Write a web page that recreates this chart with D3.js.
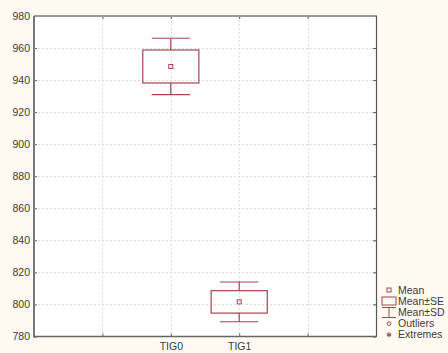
<!DOCTYPE html>
<html>
<head>
<meta charset="utf-8">
<script src="https://cdn.jsdelivr.net/npm/d3@7"></script>
<style>
  html, body { margin: 0; padding: 0; background: #fffbf2; }
  svg { display: block; font-family: "Liberation Sans", Arial, sans-serif; }
</style>
</head>
<body>
<div id="chart"></div>
<script>
// Box plot: mean, mean±SE, mean±SD per group
const groups = ["TIG0", "TIG1"];
const means = [948.5, 801.6];
const se = [10.3, 7.0];
const sd = [17.6, 12.4];
const yTicks = [780, 800, 820, 840, 860, 880, 900, 920, 940, 960, 980];
const legendItems = ["Mean", "Mean±SE", "Mean±SD", "Outliers", "Extremes"];

const width = 448, height = 353;
const margin = { top: 16, right: 72, bottom: 16, left: 34 };
const boxColor = "#a3454d";

const svg = d3.select("#chart").append("svg")
  .attr("width", width).attr("height", height);

const x = d3.scaleLinear().domain([-2, 3]).range([margin.left, width - margin.right]);
const y = d3.scaleLinear().domain([780, 980]).range([height - margin.bottom - 0.5, margin.top]);

svg.append("rect")
  .attr("x", margin.left).attr("y", margin.top)
  .attr("width", x(3) - x(-2)).attr("height", y(780) - y(980))
  .attr("fill", "#fff");

// grid
const grid = svg.append("g").attr("stroke", "#dcdcdc").attr("stroke-dasharray", "2,2");
grid.selectAll("line.h").data(yTicks.slice(1, -1)).join("line")
  .attr("x1", x(-2)).attr("x2", x(3))
  .attr("y1", d => Math.round(y(d)) + 0.5).attr("y2", d => Math.round(y(d)) + 0.5);
grid.selectAll("line.v").data([-1, 0, 1, 2]).join("line")
  .attr("y1", y(980)).attr("y2", y(780))
  .attr("x1", d => Math.round(x(d)) + 0.5).attr("x2", d => Math.round(x(d)) + 0.5);

// axes
const yAxis = svg.append("g")
  .attr("transform", `translate(${margin.left},0)`)
  .call(d3.axisLeft(y).tickValues(yTicks).tickSize(-3).tickPadding(4));
yAxis.select(".domain").remove();
yAxis.selectAll("line").attr("stroke", "#666");
yAxis.selectAll("text").attr("font-size", 10.5).attr("fill", "#3a3a3a");

const yAxisR = svg.append("g")
  .attr("transform", `translate(${x(3)},0)`)
  .call(d3.axisRight(y).tickValues(yTicks).tickSize(-3).tickFormat(""));
yAxisR.select(".domain").remove();
yAxisR.selectAll("line").attr("stroke", "#555");

const xAxis = svg.append("g")
  .attr("transform", `translate(0,${y(780)})`)
  .call(d3.axisBottom(x).tickValues([-1, 0, 1, 2]).tickSize(-3).tickPadding(6)
    .tickFormat(d => groups[d] || ""));
xAxis.select(".domain").remove();
xAxis.selectAll("line").attr("stroke", "#666");
xAxis.selectAll("text").attr("font-size", 10.5).attr("fill", "#3a3a3a");

const xAxisT = svg.append("g")
  .attr("transform", `translate(0,${y(980)})`)
  .call(d3.axisTop(x).tickValues([-1, 0, 1, 2]).tickSize(-3).tickFormat(""));
xAxisT.select(".domain").remove();
xAxisT.selectAll("line").attr("stroke", "#555");

// frame
svg.append("line").attr("x1", x(-2)).attr("x2", x(3) + 1)
  .attr("y1", y(980)).attr("y2", y(980)).attr("stroke", "#999").attr("stroke-width", 2);
svg.append("line").attr("x1", x(-2)).attr("x2", x(-2))
  .attr("y1", y(980)).attr("y2", y(780) + 1).attr("stroke", "#777").attr("stroke-width", 2);
svg.append("line").attr("x1", x(-2)).attr("x2", x(3) + 1)
  .attr("y1", y(780)).attr("y2", y(780)).attr("stroke", "#666").attr("stroke-width", 1.5);
svg.append("line").attr("x1", x(3) + 0.5).attr("x2", x(3) + 0.5)
  .attr("y1", y(980)).attr("y2", y(780)).attr("stroke", "#555").attr("stroke-width", 1.2);

// boxes
const bw = 0.41, cw = 0.28;
const boxes = svg.append("g").attr("stroke", boxColor).attr("fill", "none").attr("stroke-width", 1.2);
groups.forEach((g, i) => {
  const b = boxes.append("g");
  b.append("line").attr("x1", x(i)).attr("x2", x(i))
    .attr("y1", y(means[i] + sd[i])).attr("y2", y(means[i] + se[i]));
  b.append("line").attr("x1", x(i)).attr("x2", x(i))
    .attr("y1", y(means[i] - se[i])).attr("y2", y(means[i] - sd[i]));
  b.append("line").attr("x1", x(i - cw)).attr("x2", x(i + cw))
    .attr("y1", y(means[i] + sd[i])).attr("y2", y(means[i] + sd[i]));
  b.append("line").attr("x1", x(i - cw)).attr("x2", x(i + cw))
    .attr("y1", y(means[i] - sd[i])).attr("y2", y(means[i] - sd[i]));
  b.append("rect").attr("x", x(i - bw)).attr("width", x(i + bw) - x(i - bw))
    .attr("y", y(means[i] + se[i])).attr("height", y(means[i] - se[i]) - y(means[i] + se[i]));
  b.append("rect").attr("x", x(i) - 2).attr("y", y(means[i]) - 2)
    .attr("width", 4).attr("height", 4).attr("stroke-width", 1);
});

// legend
const legend = svg.append("g").attr("transform", "translate(389,290)");
legend.selectAll("text").data(legendItems).join("text")
  .attr("x", 9).attr("y", (d, i) => i * 11.2).attr("dy", "0.35em")
  .attr("font-size", 10.5).attr("fill", "#3a3a3a").text(d => d);
const sym = legend.append("g").attr("stroke", boxColor).attr("fill", "none").attr("stroke-width", 1);
sym.append("rect").attr("x", -2).attr("y", -2).attr("width", 4).attr("height", 4);
sym.append("rect").attr("x", -7).attr("y", 7).attr("width", 14).attr("height", 8);
sym.append("line").attr("x1", -7).attr("x2", 7).attr("y1", 17.5).attr("y2", 17.5);
sym.append("line").attr("x1", 0).attr("x2", 0).attr("y1", 17.5).attr("y2", 27.5);
sym.append("line").attr("x1", -7).attr("x2", 7).attr("y1", 27.5).attr("y2", 27.5);
sym.append("circle").attr("cx", 0).attr("cy", 33.6).attr("r", 1.8);
const ast = sym.append("g").attr("transform", "translate(0,44.8)");
[0, 60, 120].forEach(a => ast.append("line")
  .attr("x1", 0).attr("x2", 0).attr("y1", -2.5).attr("y2", 2.5)
  .attr("transform", `rotate(${a})`));
</script>
</body>
</html>
